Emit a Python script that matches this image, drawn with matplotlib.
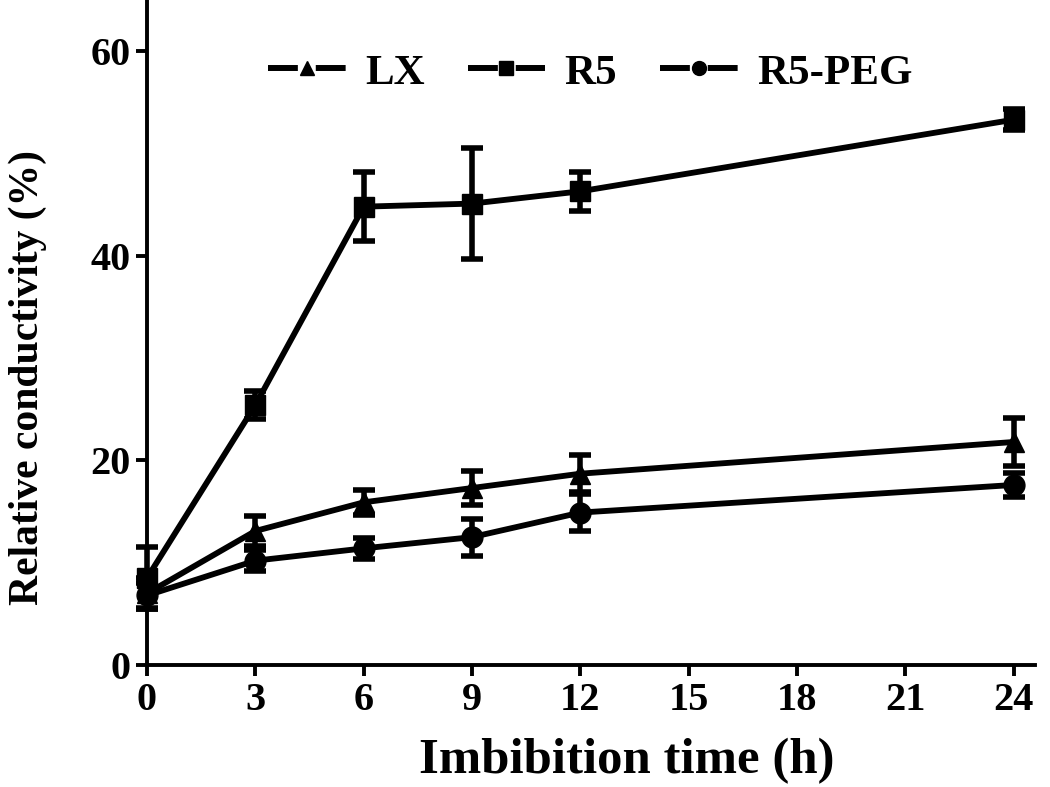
import matplotlib
matplotlib.use("Agg")
import matplotlib.pyplot as plt
from matplotlib.lines import Line2D

times = [0, 3, 6, 9, 12, 24]
lx = [7.0, 13.1, 15.9, 17.3, 18.7, 21.8]
lx_err = [1.5, 1.5, 1.2, 1.7, 1.8, 2.3]
r5 = [8.5, 25.4, 44.8, 45.1, 46.3, 53.3]
r5_err = [3.0, 1.4, 3.4, 5.4, 1.9, 1.0]
peg = [6.8, 10.2, 11.4, 12.5, 14.9, 17.6]
peg_err = [1.2, 1.0, 1.0, 1.8, 1.8, 1.2]
labels = ["LX", "R5", "R5-PEG"]
xticks = [0, 3, 6, 9, 12, 15, 18, 21, 24]
yticks = [0, 20, 40, 60]

plt.rcParams['font.family'] = ['Liberation Serif', 'DejaVu Serif']
plt.rcParams['font.weight'] = 'bold'

fig = plt.figure(figsize=(10.5, 7.87), dpi=100)
ax = fig.add_axes([0.14, 0.155, 0.846, 0.845])

for y, e, m, lab in [(lx, lx_err, '^', labels[0]), (r5, r5_err, 's', labels[1]), (peg, peg_err, 'o', labels[2])]:
    ax.errorbar(times, y, yerr=e, color='black', marker=m, markersize=15, lw=4.2,
                elinewidth=4.0, capsize=8, capthick=4.0, label=lab, clip_on=False)

ax.set_xlim(0, 24.6)
ax.set_ylim(0, 65)
ax.set_xticks(xticks)
ax.set_yticks(yticks)
for s in ['top', 'right']:
    ax.spines[s].set_visible(False)
for s in ['left', 'bottom']:
    ax.spines[s].set_linewidth(2.8)
ax.tick_params(axis='both', width=2.8, length=8, labelsize=29, direction='out', pad=4)
for t in ax.get_xticklabels() + ax.get_yticklabels():
    t.set_fontweight('bold')
ax.set_xlabel("Imbibition time (h)", fontsize=36.5, fontweight='bold')
ax.xaxis.set_label_coords(0.54, -0.11)
ax.set_ylabel("Relative conductivity (%)", fontsize=30, fontweight='bold')
ax.yaxis.set_label_coords(-0.113, 0.433)

handles = [Line2D([], [], color='black', lw=4.3, marker=m, markersize=10, ls=(0, (5, 3)))
           for m in ['^', 's', 'o']]
leg = ax.legend(handles, labels, loc='upper center', bbox_to_anchor=(0.499, 0.978), ncol=3, frameon=False,
                handlelength=1.8, columnspacing=1.0, handletextpad=0.45,
                prop={'weight': 'bold', 'size': 31})

fig.savefig("out.png", dpi=100)
